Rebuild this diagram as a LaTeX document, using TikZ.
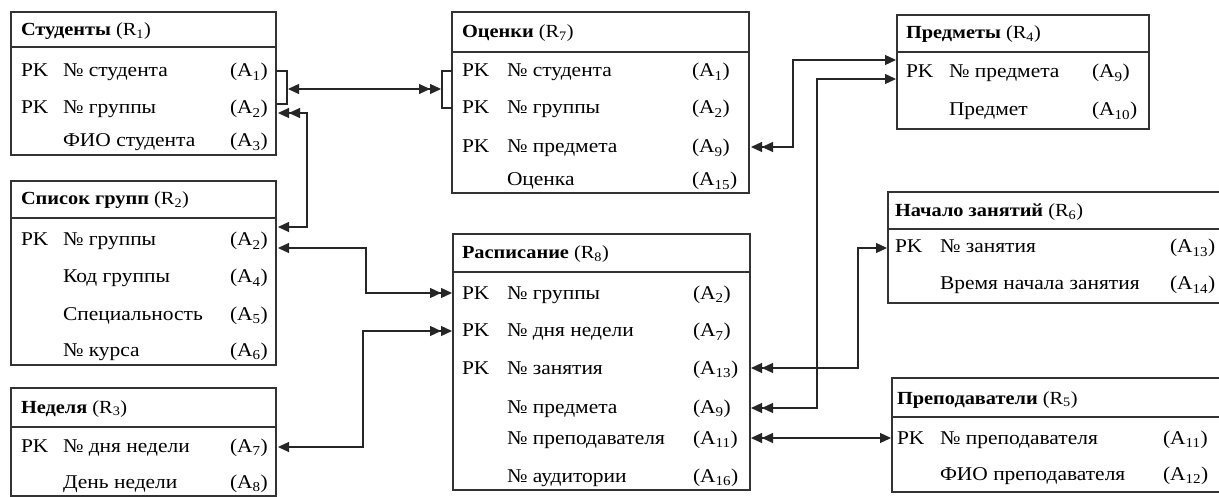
\documentclass[tikz,border=0pt]{standalone}
\usepackage{fontspec}
\setmainfont{Liberation Serif}[FakeStretch=1.1]
\usetikzlibrary{arrows.meta}
\newcommand\rfs{\fontsize{19.5}{23}\selectfont}
\newcommand\tfs{\fontsize{18.5}{22}\selectfont}
\newcommand\sbx[1]{\textsubscript{#1}}
\newcommand\prow[7]{\node[txt] (#1pk) at (#3,#2+6) {PK};\node[txt] (#1n) at (#4,#2+6) {#6};\node[txt] (#1a) at (#5,#2+6) {#7};}
\newcommand\nrow[6]{\node[txt] (#1n) at (#3,#2+6) {#5};\node[txt] (#1a) at (#4,#2+6) {#6};}
\tikzset{
 tbl/.style={draw=black!80, line width=1.2pt, inner sep=0pt, outer sep=0pt, anchor=north west},
 hline/.style={draw=black!80, line width=1.2pt},
 txt/.style={anchor=base west, inner sep=0pt, outer sep=0pt, font=\rfs, text=black},
 ttl/.style={anchor=base west, inner sep=0pt, outer sep=0pt, font=\tfs, text=black},
 conn/.style={line width=1.2pt, draw=black!85},
 sgl/.tip={Triangle[length=11pt,width=10pt]},
 dbl/.tip={Triangle[length=11pt,width=10pt] Triangle[length=11pt,width=10pt]},
}
\begin{document}
\begin{tikzpicture}[x=1pt,y=-1pt]
\fill[white] (0,0) rectangle (1219,497);
\useasboundingbox (0,0) rectangle (1219,497);

% R1 Студенты
\node[tbl, minimum width=265, minimum height=143] (r1) at (11,12) {};
\draw[hline] ([yshift=-35]r1.north west) -- ([yshift=-35]r1.north east);
\node[ttl] (r1t) at (21,36) {\textbf{Студенты} (R\sbx{1})};
\prow{r1r1}{71}{21}{63}{230}{№ студента}{(A\sbx{1})}
\prow{r1r2}{108}{21}{63}{230}{№ группы}{(A\sbx{2})}
\nrow{r1r3}{141}{63}{230}{ФИО студента}{(A\sbx{3})}

% R2 Список групп
\node[tbl, minimum width=265, minimum height=184] (r2) at (11,181) {};
\draw[hline] ([yshift=-37]r2.north west) -- ([yshift=-37]r2.north east);
\node[ttl] (r2t) at (21,205) {\textbf{Список групп} (R\sbx{2})};
\prow{r2r1}{240}{21}{63}{230}{№ группы}{(A\sbx{2})}
\nrow{r2r2}{277}{63}{230}{Код группы}{(A\sbx{4})}
\nrow{r2r3}{314}{63}{230}{Специальность}{(A\sbx{5})}
\nrow{r2r4}{350}{63}{230}{№ курса}{(A\sbx{6})}

% R3 Неделя
\node[tbl, minimum width=265, minimum height=108] (r3) at (11,388) {};
\draw[hline] ([yshift=-39]r3.north west) -- ([yshift=-39]r3.north east);
\node[ttl] (r3t) at (21,413) {\textbf{Неделя} (R\sbx{3})};
\prow{r3r1}{446}{21}{63}{230}{№ дня недели}{(A\sbx{7})}
\nrow{r3r2}{482}{63}{230}{День недели}{(A\sbx{8})}

% R7 Оценки
\node[tbl, minimum width=297, minimum height=181] (r7) at (452,12) {};
\draw[hline] ([yshift=-40]r7.north west) -- ([yshift=-40]r7.north east);
\node[ttl] (r7t) at (462,38) {\textbf{Оценки} (R\sbx{7})};
\prow{r7r1}{71}{462}{507}{692}{№ студента}{(A\sbx{1})}
\prow{r7r2}{108}{462}{507}{692}{№ группы}{(A\sbx{2})}
\prow{r7r3}{147}{462}{507}{692}{№ предмета}{(A\sbx{9})}
\nrow{r7r4}{180}{507}{692}{Оценка}{(A\sbx{15})}

% R8 Расписание
\node[tbl, minimum width=297, minimum height=256] (r8) at (453,234) {};
\draw[hline] ([yshift=-38]r8.north west) -- ([yshift=-38]r8.north east);
\node[ttl] (r8t) at (462,259) {\textbf{Расписание} (R\sbx{8})};
\prow{r8r1}{293}{462}{507}{693}{№ группы}{(A\sbx{2})}
\prow{r8r2}{331}{462}{507}{693}{№ дня недели}{(A\sbx{7})}
\prow{r8r3}{368}{462}{507}{693}{№ занятия}{(A\sbx{13})}
\nrow{r8r4}{407}{507}{693}{№ предмета}{(A\sbx{9})}
\nrow{r8r5}{438}{507}{693}{№ преподавателя}{(A\sbx{11})}
\nrow{r8r6}{476}{507}{693}{№ аудитории}{(A\sbx{16})}

% R4 Предметы
\node[tbl, minimum width=252, minimum height=114] (r4) at (897,15) {};
\draw[hline] ([yshift=-37]r4.north west) -- ([yshift=-37]r4.north east);
\node[ttl] (r4t) at (906,39) {\textbf{Предметы} (R\sbx{4})};
\prow{r4r1}{72}{906}{949}{1092}{№ предмета}{(A\sbx{9})}
\nrow{r4r2}{110}{949}{1092}{Предмет}{(A\sbx{10})}

% R6 Начало занятий
\node[tbl, minimum width=340, minimum height=111] (r6) at (888,192) {};
\draw[hline] ([yshift=-37]r6.north west) -- ([yshift=-37]r6.north east);
\node[ttl] (r6t) at (895,217) {\textbf{Начало занятий} (R\sbx{6})};
\prow{r6r1}{247}{895}{940}{1170}{№ занятия}{(A\sbx{13})}
\nrow{r6r2}{284}{940}{1170}{Время начала занятия}{(A\sbx{14})}

% R5 Преподаватели
\node[tbl, minimum width=340, minimum height=114] (r5) at (892,378) {};
\draw[hline] ([yshift=-39]r5.north west) -- ([yshift=-39]r5.north east);
\node[ttl] (r5t) at (897,404) {\textbf{Преподаватели} (R\sbx{5})};
\prow{r5r1}{438}{897}{940}{1163}{№ преподавателя}{(A\sbx{11})}
\nrow{r5r2}{474}{940}{1163}{ФИО преподавателя}{(A\sbx{12})}

% connector end points
\coordinate (k1) at (288,89);
\coordinate (k2) at (441,89);
\coordinate (r1p2) at (278,113);
\coordinate (r2pa) at (278,227);
\coordinate (r2pb) at (278,248);
\coordinate (r3p1) at (278,447);
\coordinate (r8p1) at (452,293);
\coordinate (r8p2) at (452,331);
\coordinate (r7p3) at (751,147);
\coordinate (r4pa) at (896,60);
\coordinate (r4pb) at (896,79);
\coordinate (r8p3) at (751,368);
\coordinate (r8p4) at (751,408);
\coordinate (r8p5) at (751,438);
\coordinate (r6p1) at (887,248);
\coordinate (r5p1) at (891,438);

% brackets
\draw[conn] (r1.east |- 0,71) -- ++(11,0) |- (r1.east |- 0,104);
\draw[conn] (r7.west |- 0,71) -- ++(-10,0) |- (r7.west |- 0,108);

% connectors
\draw[conn, sgl-dbl] (k1) -- (k2);
\draw[conn, dbl-sgl] (r1p2) -- ++(29,0) |- (r2pa);
\draw[conn, sgl-dbl] (r2pb) -- ++(88,0) |- (r8p1);
\draw[conn, sgl-dbl] (r3p1) -- ++(85,0) |- (r8p2);
\draw[conn, dbl-sgl] (r7p3) -- ++(42,0) |- (r4pa);
\draw[conn, dbl-sgl] (r8p4) -- ++(66,0) |- (r4pb);
\draw[conn, dbl-sgl] (r8p3) -- ++(107,0) |- (r6p1);
\draw[conn, dbl-sgl] (r8p5) -- (r5p1);
\end{tikzpicture}
\end{document}
